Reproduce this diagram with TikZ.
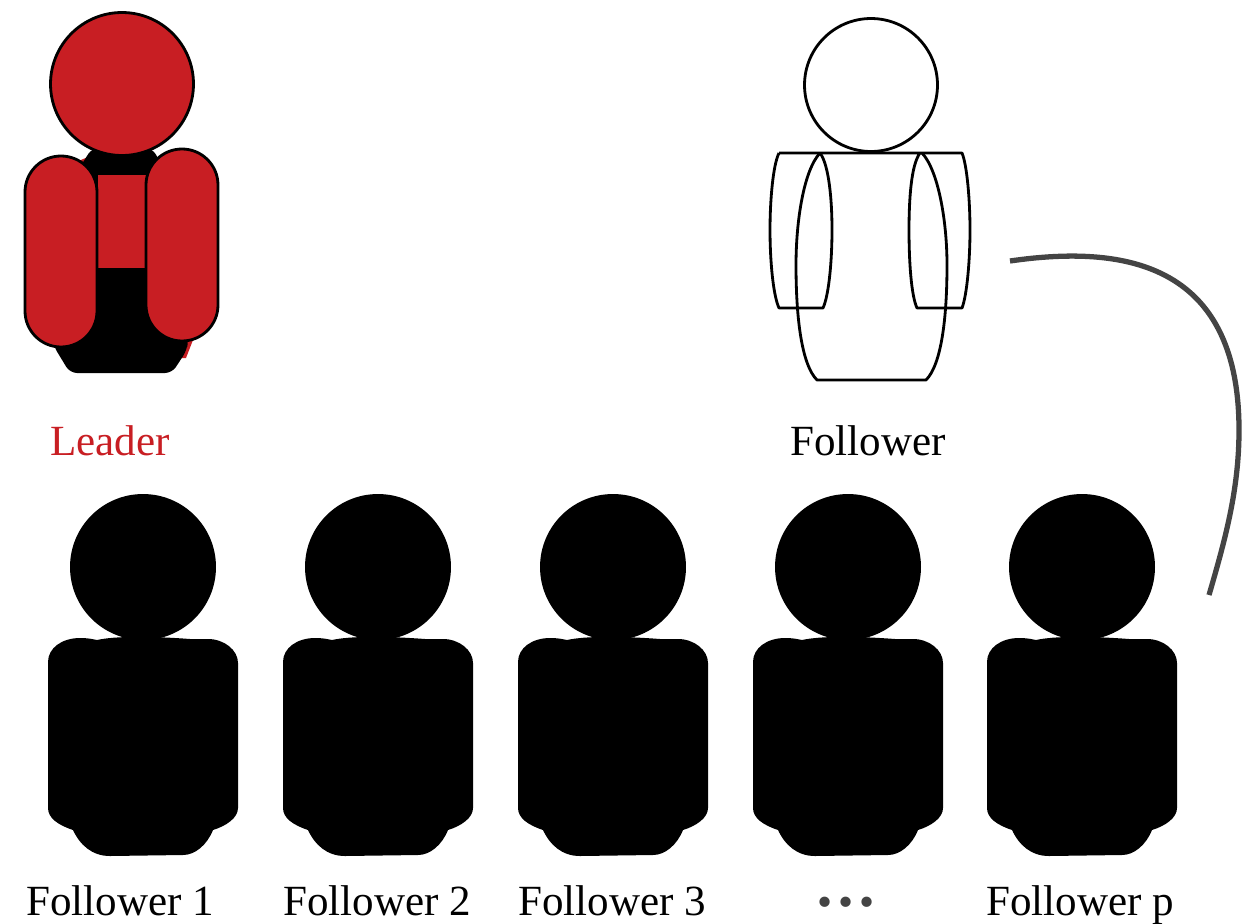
\documentclass[tikz,border=0pt]{standalone}
\usepackage{fontspec}
\setmainfont{Liberation Serif}
\definecolor{leadred}{HTML}{C81E23}
\definecolor{linkgray}{HTML}{444444}
\tikzset{
  lbl/.style={anchor=base,font=\fontsize{24.5}{30}\selectfont},
  head/.style={circle,draw=black,line width=1.6pt,inner sep=0pt},
  outline/.style={draw=black,line width=1.6pt,line join=round},
  blackbody/.pic={
    \fill[black] (48,662) .. controls (48,648) and (62,638) .. (80,638) .. controls (88,638) and (92,639) .. (97,640)
      .. controls (115,636) and (150,636) .. (190,639) -- (208,639) .. controls (224,639) and (238,650) .. (238,663)
      -- (238,808) .. controls (238,818) and (226,826) .. (213,830) .. controls (207,845) and (195,855) .. (183,855)
      -- (110,856) .. controls (92,856) and (80,845) .. (73,830) .. controls (58,825) and (48,818) .. (48,808) -- cycle;
  }
}
\begin{document}
\begin{tikzpicture}[x=0.02cm,y=-0.02cm]
  \useasboundingbox (0,0) rectangle (1253,923);
  % leader
  \fill[leadred] (76,162) -- (88,157) -- (88,172) -- (76,172) -- cycle;
  \fill[leadred] (180,335) -- (193,340) -- (186,358) -- (180,358) -- cycle;
  \fill[black,rounded corners=4pt] (92,148) -- (152,148) -- (168,175) -- (188,340) -- (187,350) -- (172,373) -- (70,373) -- (53,345) -- (75,175) -- cycle;
  \fill[leadred] (98,175) rectangle (146,268);
  \node[head,fill=leadred,minimum size=2.86cm] (leaderhead) at (122,84) {};
  \draw[outline,fill=leadred,rounded corners=0.72cm] (25,156) rectangle (97,347);
  \draw[outline,fill=leadred,rounded corners=0.72cm] (146,149) rectangle (218,341);
  \node[lbl,text=leadred] (leader) at (110,455) {Leader};
  % follower outline
  \node[head,minimum size=2.66cm] (followerhead) at (871,85) {};
  \draw[outline] (779,153) -- (962,153) .. controls (967,165) and (970,200) .. (970,230) .. controls (970,260) and (967,295) .. (962,308)
    -- (917,308) .. controls (911,295) and (909,260) .. (909,230) .. controls (909,200) and (911,165) .. (920,153);
  \draw[outline] (779,153) .. controls (773,165) and (770,200) .. (770,230) .. controls (770,260) and (773,295) .. (779,308)
    -- (823,308) .. controls (829,295) and (832,260) .. (832,230) .. controls (832,200) and (829,165) .. (820,153);
  \draw[outline] (820,153) .. controls (804,170) and (796,220) .. (796,265) .. controls (796,320) and (802,365) .. (817,380)
    -- (926,380) .. controls (941,365) and (947,320) .. (947,265) .. controls (947,220) and (938,170) .. (922,153);
  \node[lbl] (follower) at (868,455) {Follower};
  % bottom row
  \foreach \i/\dx in {1/0,2/235,3/470,4/705,5/939} {
    \pic at (\dx,0) {blackbody};
    \node[circle,fill=black,inner sep=0pt,minimum size=2.92cm] (head\i) at (143+\dx,567) {};
  }
  \node[lbl] (follower1) at (120,915) {Follower 1};
  \node[lbl] (follower2) at (377,915) {Follower 2};
  \node[lbl] (follower3) at (612,915) {Follower 3};
  \node[lbl,text=linkgray] (dots) at (846,916) {\textbullet\hspace{3.2pt}\textbullet\hspace{3.2pt}\textbullet};
  \node[lbl] (followerp) at (1080,915) {Follower p};
  % link
  \coordinate (linkstart) at (1010,261);
  \coordinate (linkend) at (1209,595);
  \draw[linkgray,line width=3pt] (linkstart) .. controls (1120,245) and (1239,260) .. (1239,430) .. controls (1239,490) and (1225,540) .. (linkend);
\end{tikzpicture}
\end{document}
